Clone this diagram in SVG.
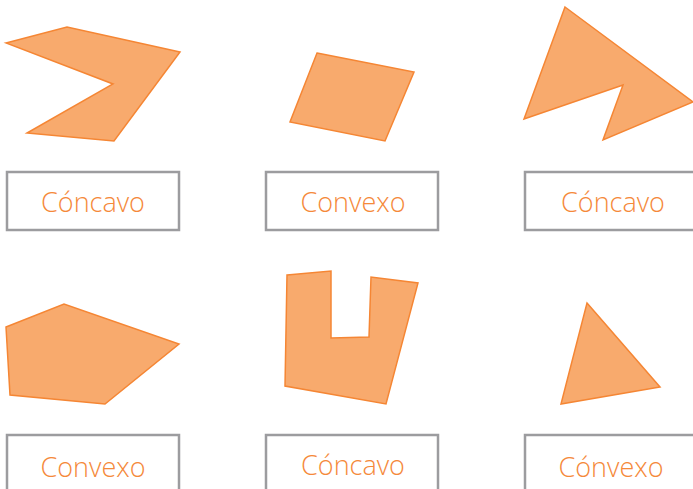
<svg xmlns="http://www.w3.org/2000/svg" width="693" height="489" viewBox="0 0 693 489">
<style>
.shape{fill:#F8AA6D;stroke:#F58634;stroke-width:1.5;stroke-linejoin:miter}
.box{fill:#fff;stroke:#9C9C9F;stroke-width:2.5}
.lbl{font-family:"Open Sans","Noto Sans",sans-serif;font-weight:300;font-size:27px;fill:#F5893A;text-anchor:middle}
</style>
<rect width="693" height="489" fill="#fff"/>
<g id="shape1"><polygon class="shape" points="6,43 67,27 180,52 114,141 27,133 113,84"/></g>
<g id="shape2"><polygon class="shape" points="317,53 414,72 385,141 290,122"/></g>
<g id="shape3"><polygon class="shape" points="565,7 693,102 603,140 623,85 524,119"/></g>
<g id="shape4"><polygon class="shape" points="6,327 64,304 179,344 105,404 10,395"/></g>
<g id="shape5"><polygon class="shape" points="287,275 331,271 331,338 369,337 371,277 418,283 386,404 285,386"/></g>
<g id="shape6"><polygon class="shape" points="587,303 660,387 561,404"/></g>
<g id="label1"><rect class="box" x="7" y="172" width="172" height="58"/><text class="lbl" x="93" y="212">Cóncavo</text></g>
<g id="label2"><rect class="box" x="266" y="172" width="172" height="58"/><text class="lbl" x="353" y="212">Convexo</text></g>
<g id="label3"><rect class="box" x="525" y="172" width="172" height="58"/><text class="lbl" x="613" y="212">Cóncavo</text></g>
<g id="label4"><rect class="box" x="7" y="435" width="172" height="58"/><text class="lbl" x="93" y="477">Convexo</text></g>
<g id="label5"><rect class="box" x="266" y="435" width="172" height="58"/><text class="lbl" x="353" y="475">Cóncavo</text></g>
<g id="label6"><rect class="box" x="525" y="435" width="172" height="58"/><text class="lbl" x="611" y="477">Cónvexo</text></g>
</svg>
